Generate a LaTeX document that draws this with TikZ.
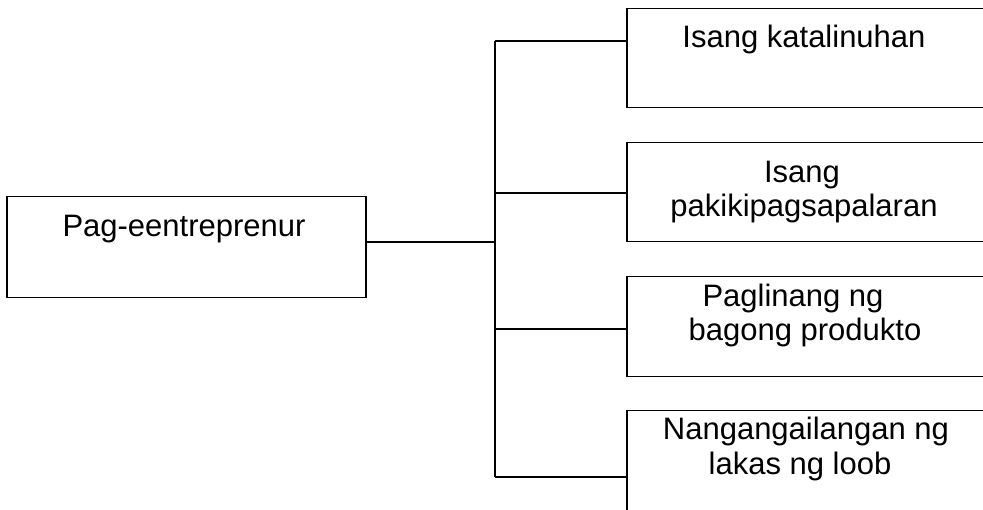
\documentclass[tikz,border=0pt]{standalone}
\usepackage{fontspec}
\setmainfont{Liberation Sans}
\begin{document}
\begin{tikzpicture}[x=1pt,y=-1pt,
  box/.style={draw, line width=1.5pt, rectangle, inner sep=0pt, anchor=north west},
  lbl/.style={anchor=base, inner sep=0pt, font=\fontsize{31}{34}\selectfont},
  wire/.style={line width=1.5pt}]
\useasboundingbox (0,0) rectangle (983,510);
% boxes
\node[box, minimum width=359pt, minimum height=101pt] (root) at (6,196) {};
\node[box, minimum width=360pt, minimum height=99pt] (b1) at (626,8) {};
\node[box, minimum width=360pt, minimum height=99pt] (b2) at (626,142) {};
\node[box, minimum width=360pt, minimum height=100pt] (b3) at (626,276) {};
\node[box, minimum width=360pt, minimum height=104pt] (b4) at (626,410) {};
% labels
\node[lbl] (t0) at (184,237) {Pag-eentreprenur};
\node[lbl] (t1) at (804,48) {Isang katalinuhan};
\node[lbl] (t2a) at (802,183) {Isang};
\node[lbl] (t2b) at (804,217) {pakikipagsapalaran};
\node[lbl] (t3a) at (793,307) {Paglinang ng};
\node[lbl] (t3b) at (805,341) {bagong produkto};
\node[lbl] (t4a) at (806,440) {Nangangailangan ng};
\node[lbl] (t4b) at (800,475) {lakas ng loob};
% connectors
\coordinate (j0) at (495,242);
\coordinate (j1) at (495,41);
\coordinate (j2) at (495,193);
\coordinate (j3) at (495,329);
\coordinate (j4) at (495,477);
\draw[wire] (root.east |- j0) -- (j0);
\draw[wire] (j1) -- (j4);
\draw[wire] (j1) -- (j1 -| b1.west);
\draw[wire] (j2) -- (j2 -| b2.west);
\draw[wire] (j3) -- (j3 -| b3.west);
\draw[wire] (j4) -- (j4 -| b4.west);
\end{tikzpicture}
\end{document}
